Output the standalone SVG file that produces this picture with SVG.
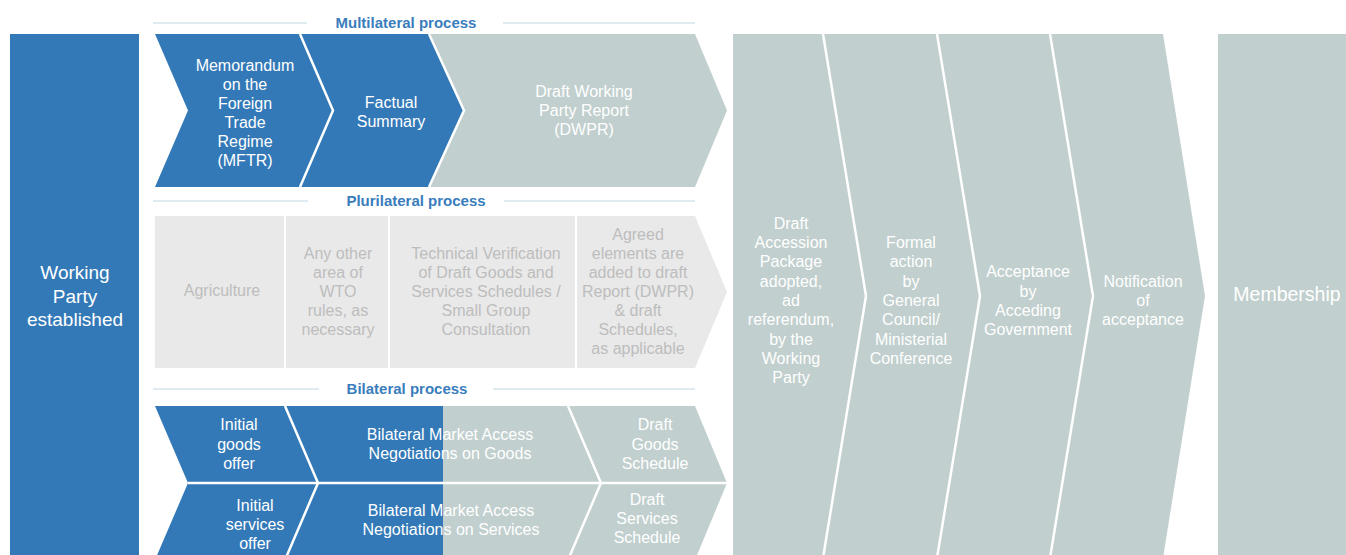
<svg xmlns="http://www.w3.org/2000/svg" width="1346" height="555" viewBox="0 0 1346 555">
<style>
text{font-family:"Liberation Sans",Arial,sans-serif;text-anchor:middle}
.b{fill:#3379b7}
.g{fill:#c1cfce}
.l{fill:#e9e9e9}
.w{font-size:16px;fill:#ffffff}
.p{font-size:16px;fill:#bdbdbd}
.h{font-size:15px;font-weight:bold;fill:#3a7dbc}
.sep{fill:none;stroke:#ffffff;stroke-width:2.5}
.rule{stroke:#d5e3ec;stroke-width:1.5}
</style>
<rect width="1346" height="555" fill="#ffffff"/>
<g id="dividers">
<line class="rule" x1="153" y1="23" x2="307" y2="23"/><line class="rule" x1="503" y1="23" x2="695" y2="23"/>
<line class="rule" x1="153" y1="201" x2="308" y2="201"/><line class="rule" x1="504" y1="201" x2="695" y2="201"/>
<line class="rule" x1="153" y1="389" x2="319" y2="389"/><line class="rule" x1="493" y1="389" x2="695" y2="389"/>
<text class="h" x="406" y="28">Multilateral process</text>
<text class="h" x="416" y="206">Plurilateral process</text>
<text class="h" x="407" y="394">Bilateral process</text>
</g>
<g id="working-party">
<rect class="b" x="10" y="34" width="129" height="530"/>
<text x="75" y="279" font-size="19" fill="#fff">Working</text>
<text x="75" y="302.5" font-size="19" fill="#fff">Party</text>
<text x="75" y="326" font-size="19" fill="#fff">established</text>
</g>
<g id="mftr">
<polygon class="b" points="155,34 300,34 333,110.5 300,187 155,187 188,110.5"/>
<text class="w" x="245"><tspan x="245" y="70.5">Memorandum</tspan><tspan x="245" y="89.5">on the</tspan><tspan x="245" y="108.5">Foreign</tspan><tspan x="245" y="127.5">Trade</tspan><tspan x="245" y="146.5">Regime</tspan><tspan x="245" y="165.5">(MFTR)</tspan></text>
</g>
<g id="factual-summary">
<polygon class="b" points="300,34 429,34 464,110.5 429,187 300,187 333,110.5"/>
<text class="w"><tspan x="391" y="107.5">Factual</tspan><tspan x="391" y="127">Summary</tspan></text>
</g>
<g id="dwpr">
<polygon class="g" points="429,34 695,34 727,110.5 695,187 429,187 464,110.5"/>
<text class="w"><tspan x="584" y="96.5">Draft Working</tspan><tspan x="584" y="115.5">Party Report</tspan><tspan x="584" y="134.5">(DWPR)</tspan></text>
</g>
<g id="top-separators">
<polyline class="sep" points="300,34 333,110.5 300,187"/>
<polyline class="sep" points="429,34 464,110.5 429,187"/>
</g>
<g id="agriculture">
<rect class="l" x="155" y="216" width="129" height="152"/>
<text class="p" x="222" y="296">Agriculture</text>
</g>
<g id="other-areas">
<rect class="l" x="286" y="216" width="102" height="152"/>
<text class="p"><tspan x="338" y="258.5">Any other</tspan><tspan x="338" y="277.5">area of</tspan><tspan x="338" y="296.5">WTO</tspan><tspan x="338" y="315.5">rules, as</tspan><tspan x="338" y="334.5">necessary</tspan></text>
</g>
<g id="technical-verification">
<rect class="l" x="390" y="216" width="185" height="152"/>
<text class="p"><tspan x="486" y="258.5">Technical Verification</tspan><tspan x="486" y="277.5">of Draft Goods and</tspan><tspan x="486" y="296.5">Services Schedules /</tspan><tspan x="486" y="315.5">Small Group</tspan><tspan x="486" y="334.5">Consultation</tspan></text>
</g>
<g id="agreed-elements">
<polygon class="l" points="577,216 695,216 727,292 695,368 577,368"/>
<text class="p"><tspan x="638" y="239.5">Agreed</tspan><tspan x="638" y="258.5">elements are</tspan><tspan x="638" y="277.5">added to draft</tspan><tspan x="638" y="296.5">Report (DWPR)</tspan><tspan x="638" y="315.5">&amp; draft</tspan><tspan x="638" y="334.5">Schedules,</tspan><tspan x="638" y="353.5">as applicable</tspan></text>
</g>
<g id="bilateral-block">
<polygon class="g" points="443,406 695,406 727,483 695,560 443,560"/>
<polygon class="b" points="155,406 443,406 443,560 155,560 188,483"/>
</g>
<g id="initial-goods-offer">
<text class="w"><tspan x="239" y="429.5">Initial</tspan><tspan x="239" y="449.5">goods</tspan><tspan x="239" y="468.5">offer</tspan></text>
</g>
<g id="negotiations-goods">
<text class="w"><tspan x="450" y="439.5">Bilateral Market Access</tspan><tspan x="450" y="458.5">Negotiations on Goods</tspan></text>
</g>
<g id="draft-goods-schedule">
<text class="w"><tspan x="655" y="429.5">Draft</tspan><tspan x="655" y="449.5">Goods</tspan><tspan x="655" y="468.5">Schedule</tspan></text>
</g>
<g id="initial-services-offer">
<text class="w"><tspan x="255" y="510.5">Initial</tspan><tspan x="255" y="529.5">services</tspan><tspan x="255" y="548.5">offer</tspan></text>
</g>
<g id="negotiations-services">
<text class="w"><tspan x="451" y="515.5">Bilateral Market Access</tspan><tspan x="451" y="534.5">Negotiations on Services</tspan></text>
</g>
<g id="draft-services-schedule">
<text class="w"><tspan x="647" y="504.5">Draft</tspan><tspan x="647" y="523.5">Services</tspan><tspan x="647" y="542.5">Schedule</tspan></text>
</g>
<g id="bilateral-separators">
<polyline class="sep" points="285,406 318,483 285,560"/>
<polyline class="sep" points="568,406 601,483 568,560"/>
<line class="sep" x1="188" y1="483" x2="727" y2="483"/>
</g>
<g id="final-stage">
<polygon class="g" points="733,34 1163,34 1205,296 1163,558 733,558"/>
</g>
<g id="draft-accession-package">
<text class="w"><tspan x="791" y="228.5">Draft</tspan><tspan x="791" y="248">Accession</tspan><tspan x="791" y="267">Package</tspan><tspan x="791" y="286.5">adopted,</tspan><tspan x="791" y="306">ad</tspan><tspan x="791" y="325">referendum,</tspan><tspan x="791" y="344.5">by the</tspan><tspan x="791" y="364">Working</tspan><tspan x="791" y="383">Party</tspan></text>
</g>
<g id="formal-action">
<text class="w"><tspan x="911" y="248">Formal</tspan><tspan x="911" y="267">action</tspan><tspan x="911" y="286.5">by</tspan><tspan x="911" y="306">General</tspan><tspan x="911" y="325">Council/</tspan><tspan x="911" y="344.5">Ministerial</tspan><tspan x="911" y="364">Conference</tspan></text>
</g>
<g id="acceptance">
<text class="w"><tspan x="1028" y="277">Acceptance</tspan><tspan x="1028" y="296.5">by</tspan><tspan x="1028" y="316">Acceding</tspan><tspan x="1028" y="335">Government</tspan></text>
</g>
<g id="notification">
<text class="w"><tspan x="1143" y="286.5">Notification</tspan><tspan x="1143" y="306">of</tspan><tspan x="1143" y="325">acceptance</tspan></text>
</g>
<g id="final-separators">
<polyline class="sep" stroke-width="2" points="823,34 866,296 823,558"/>
<polyline class="sep" stroke-width="2" points="937,34 980,296 937,558"/>
<polyline class="sep" stroke-width="2" points="1050,34 1093,296 1050,558"/>
</g>
<g id="membership">
<rect class="g" x="1218" y="34" width="128" height="530"/>
<text x="1287" y="301" font-size="19.5" fill="#fff">Membership</text>
</g>
<g id="connectors"/>
</svg>
